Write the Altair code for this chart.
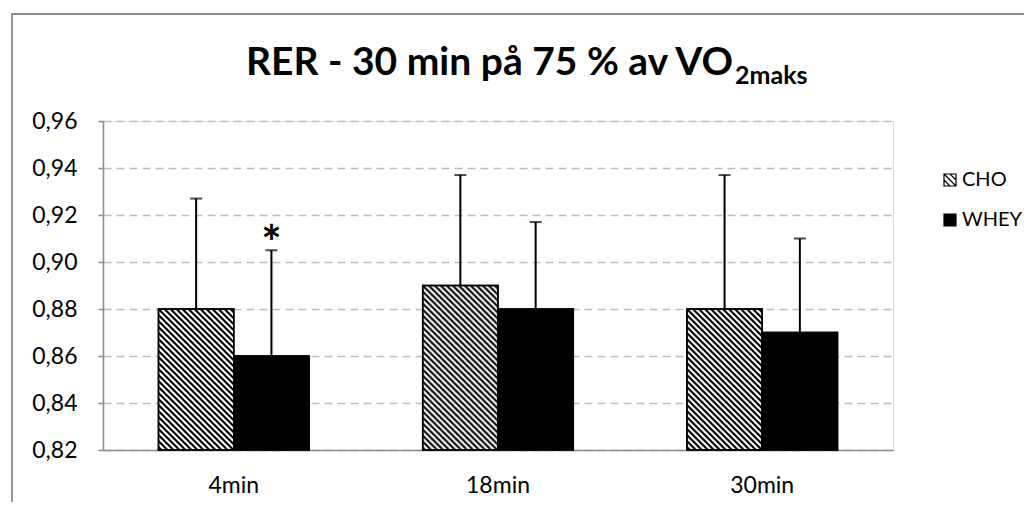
import altair as alt
import pandas as pd
from urllib.parse import quote

# ---- data ----
times = ["4min", "18min", "30min"]
groups = ["CHO", "WHEY"]
cho_mean = [0.88, 0.89, 0.88]
cho_sd = [0.047, 0.047, 0.057]
whey_mean = [0.86, 0.88, 0.87]
whey_sd = [0.045, 0.037, 0.040]
whey_sig = ["*", "", ""]
y_ticks = [0.82, 0.84, 0.86, 0.88, 0.90, 0.92, 0.94, 0.96]
title_main = "RER - 30 min på 75 % av VO"
title_sub = "2maks"

rows = []
for i, t in enumerate(times):
    rows.append({"time": t, "group": "CHO", "mean": cho_mean[i],
                 "upper": cho_mean[i] + cho_sd[i], "base": 0.82, "sig": ""})
    rows.append({"time": t, "group": "WHEY", "mean": whey_mean[i],
                 "upper": whey_mean[i] + whey_sd[i], "base": 0.82, "sig": whey_sig[i]})
df = pd.DataFrame(rows)

FONT = "Lato"
W, H = 790, 329

hatch_svg = (
    "<svg xmlns='http://www.w3.org/2000/svg' width='100%' height='100%'>"
    "<defs><pattern id='p' width='6' height='6' patternUnits='userSpaceOnUse'>"
    "<path d='M-1,-1L7,7M-1,5L1,7M5,-1L7,1' stroke='black' stroke-width='2.1'/>"
    "</pattern></defs><rect width='100%' height='100%' fill='url(#p)'/></svg>"
)
hatch_uri = "data:image/svg+xml;charset=utf-8," + quote(hatch_svg)

x_enc = alt.X("time:N", sort=times,
              scale=alt.Scale(paddingInner=0.43, paddingOuter=0.21),
              axis=alt.Axis(title=None, labelFont=FONT, labelFontSize=23, labelColor="#000",
                            labelPadding=24, ticks=False, tickSize=0, domainColor="#8c8c8c",
                            domainWidth=1.6, labelAngle=0, grid=False))
xo_enc = alt.XOffset("group:N", sort=groups, scale=alt.Scale(paddingInner=0, paddingOuter=0))
y_scale = alt.Scale(domain=[0.82, 0.96], zero=False, nice=False)
y_enc = alt.Y("mean:Q", scale=y_scale,
              axis=alt.Axis(title=None, values=y_ticks,
                            labelExpr="replace(format(datum.value, '.2f'), '.', ',')",
                            labelFont=FONT, labelFontSize=23, labelColor="#000", labelPadding=21,
                            tickSize=5, tickColor="#8c8c8c", tickWidth=1.5,
                            domainColor="#8c8c8c", domainWidth=1.6,
                            grid=True, gridColor="#bdbdbd", gridDash=[8, 5], gridWidth=1.4))

base = alt.Chart(df)

border = base.mark_rect(fill=None, stroke="#8c8c8c", strokeWidth=1.8).encode(
    x=alt.value(-91), x2=alt.value(1200), y=alt.value(-107), y2=alt.value(800)
).transform_filter("datum.time == '4min' && datum.group == 'CHO'")

legend_path = "M-1,-1H1V1H-1Z M-1,-1L1,1 M-1,0L0,1 M0,-1L1,0"
bars = base.mark_bar(stroke="black", strokeWidth=1.5).encode(
    x=x_enc, xOffset=xo_enc, y=y_enc, y2=alt.Y2("base:Q"),
    fill=alt.Fill("group:N", sort=groups,
                  scale=alt.Scale(domain=groups, range=["white", "black"]),
                  legend=alt.Legend(title=None, orient="none", legendX=837, legendY=49,
                                    symbolType=legend_path, symbolSize=144,
                                    symbolStrokeColor="black", symbolStrokeWidth=1.2,
                                    labelFont=FONT, labelFontSize=20, labelColor="#000",
                                    labelOffset=2, rowPadding=20, padding=0)),
)

hatch = base.mark_image(aspect=False).encode(
    x=alt.X("time:N", sort=times), xOffset=alt.XOffset("group:N", sort=groups),
    y=alt.Y("mean:Q"), y2=alt.Y2("base:Q"), url=alt.value(hatch_uri)
).transform_filter("datum.group == 'CHO'")

outline = base.mark_bar(fillOpacity=0, stroke="black", strokeWidth=1.5).encode(
    x=alt.X("time:N", sort=times), xOffset=alt.XOffset("group:N", sort=groups),
    y=alt.Y("mean:Q"), y2=alt.Y2("base:Q"),
)

err = base.mark_rule(color="black", strokeWidth=2).encode(
    x=alt.X("time:N", sort=times), xOffset=alt.XOffset("group:N", sort=groups),
    y=alt.Y("mean:Q"), y2=alt.Y2("upper:Q"),
)
cap = base.mark_tick(color="black", size=12, thickness=2, orient="horizontal").encode(
    x=alt.X("time:N", sort=times), xOffset=alt.XOffset("group:N", sort=groups),
    y=alt.Y("upper:Q"),
)
star = base.mark_text(font=FONT, fontSize=48, fontWeight="bold", color="black",
                      baseline="alphabetic", dy=10).encode(
    x=alt.X("time:N", sort=times), xOffset=alt.XOffset("group:N", sort=groups),
    y=alt.Y("upper:Q"), text="sig:N",
).transform_filter("datum.sig != ''")

t1 = base.mark_text(font=FONT, fontSize=39, fontWeight="bold", color="black",
                    align="right", baseline="alphabetic").encode(
    x=alt.value(630), y=alt.value(-46), text=alt.value(title_main)
).transform_filter("datum.time == '4min' && datum.group == 'CHO'")
t2 = base.mark_text(font=FONT, fontSize=25, fontWeight="bold", color="black",
                    align="left", baseline="alphabetic").encode(
    x=alt.value(632), y=alt.value(-37), text=alt.value(title_sub)
).transform_filter("datum.time == '4min' && datum.group == 'CHO'")

chart = alt.layer(border, bars, hatch, outline, err, cap, star, t1, t2).properties(
    width=W, height=H, autosize="none",
    padding={"left": 95, "top": 113, "right": 131, "bottom": 52},
).configure_view(stroke=None).configure(background="white")

chart.save("out.html", embed_options={"renderer": "svg", "actions": False})
